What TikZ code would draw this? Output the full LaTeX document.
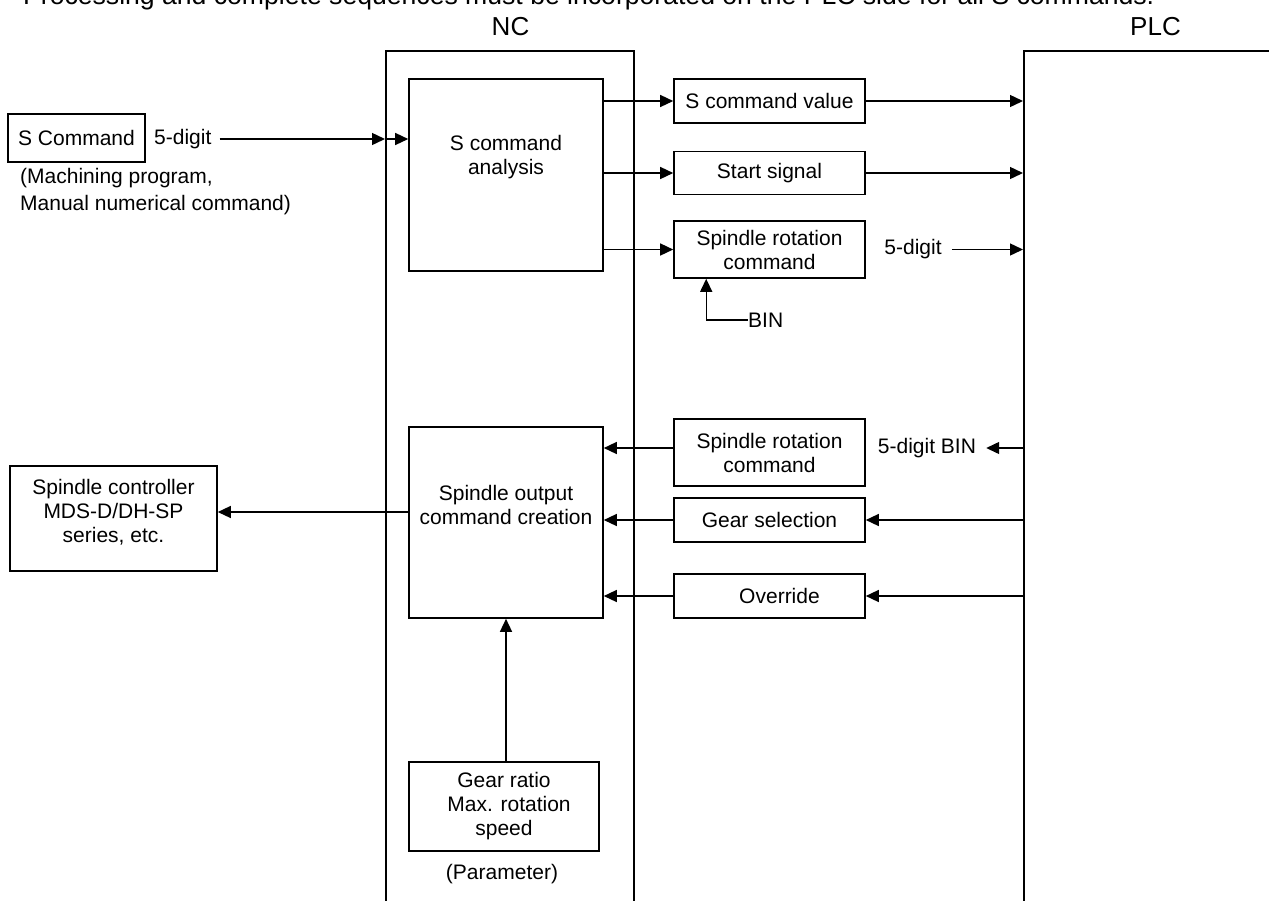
\documentclass[tikz,border=0pt]{standalone}
\usepackage{fontspec}
\setmainfont{Liberation Sans}
\usetikzlibrary{arrows.meta, positioning, calc}

\begin{document}
\begin{tikzpicture}[
  x=1pt, y=-1pt,
  box/.style={rectangle, draw, line width=1.6pt, inner sep=0pt, align=center, font=\fontsize{21}{24}\selectfont},
  txt/.style={inner sep=0pt, align=center, font=\fontsize{21}{24}\selectfont},
  zone/.style={rectangle, draw, line width=1.8pt, inner sep=0pt},
  head/.style={inner sep=0pt, font=\fontsize{26}{30}\selectfont},
  arr/.style={-{Triangle[length=13pt, width=12pt]}, line width=1.4pt}
]
\useasboundingbox (0,0) rectangle (1269,900);

% Title (cut at the top edge)
\node[head, anchor=base west, font=\fontsize{26.6}{30}\selectfont] (title) at (23,4.5) {Processing and complete sequences must be incorporated on the PLC side for all S commands.};

% NC and PLC areas
\node[zone, minimum width=248pt, minimum height=900pt, anchor=north west] (nc) at (385,50) {};
\node[zone, minimum width=340pt, minimum height=900pt, anchor=north west] (plc) at (1023,50) {};
\node[head, anchor=base] (nclbl) at (510.5,35) {NC};
\node[head, anchor=base] (plclbl) at (1155.5,35) {PLC};

% Input side
\node[box, minimum width=137pt, minimum height=48pt] (scmd) at (76.5,138) {S Command};
\node[txt, anchor=west] (fivein) at (154,139) {5-digit};
\node[txt, anchor=north west, align=left, font=\fontsize{21}{27}\selectfont] (srcnote) at (20,168) {(Machining program,\\Manual numerical command)};

% S command analysis
\node[box, minimum width=194pt, minimum height=192pt] (sana) at (506,175) {};
\node[txt] (sanatxt) at (506,157) {S command\\analysis};

% Signals to PLC
\node[box, minimum width=191pt, minimum height=44pt] (sval) at (769.5,101) {S command value};
\node[box, minimum width=191pt, minimum height=43pt] (sstart) at (769.5,173) {Start signal};
\node[box, minimum width=191pt, minimum height=57pt] (srotin) at (769.5,249.5) {Spindle rotation\\command};
\node[txt, anchor=west] (bin) at (748,320) {BIN};
\node[txt] (fiveout) at (913,249.5) {5-digit};

% Signals from PLC
\node[box, minimum width=191pt, minimum height=67pt] (srotout) at (769.5,452.5) {Spindle rotation\\command};
\node[box, minimum width=191pt, minimum height=44pt] (gsel) at (769.5,520) {Gear selection};
\node[box, minimum width=191pt, minimum height=44pt] (ovr) at (769.5,596) {\hspace*{20pt}Override};
\node[txt] (fivebin) at (927,448) {5-digit BIN};

% Spindle output
\node[box, minimum width=194pt, minimum height=191pt] (sout) at (506,522.5) {};
\node[txt] (souttxt) at (506,505) {Spindle output\\command creation};
\node[box, minimum width=207pt, minimum height=105pt] (ctrl) at (113.5,518.5) {};
\node[txt] (ctrltxt) at (113.5,512) {Spindle controller\\MDS-D/DH-SP\\series, etc.};
\node[box, minimum width=190pt, minimum height=89pt] (gear) at (504,806.5) {Gear ratio\\\hspace*{10pt}Max. rotation\\speed};
\node[txt] (param) at (502,874) {(Parameter)};

% Connectors
\draw[arr] ([xshift=8pt]fivein.east) -- (fivein.east -| nc.west);
\draw[arr] (fivein.east -| nc.west) -- (fivein.east -| sana.west);
\draw[arr] (sana.east |- sval.west) -- (sval.west);
\draw[arr] (sana.east |- sstart.west) -- (sstart.west);
\draw[arr] (sana.east |- srotin.west) -- (srotin.west);
\draw[arr] (sval.east) -- (sval.east -| plc.west);
\draw[arr] (sstart.east) -- (sstart.east -| plc.west);
\draw[arr] ([xshift=10pt]fiveout.east) -- (fiveout.east -| plc.west);
\draw[arr] (bin.west) -| ([xshift=33pt]srotin.south west);
\draw[arr] (plc.west |- fivebin.east) -- ([xshift=10pt]fivebin.east);
\draw[arr] (plc.west |- gsel.east) -- (gsel.east);
\draw[arr] (plc.west |- ovr.east) -- (ovr.east);
\draw[arr] (srotout.west |- fivebin.west) -- (fivebin.west -| sout.east);
\draw[arr] (gsel.west) -- (gsel.west -| sout.east);
\draw[arr] (ovr.west) -- (ovr.west -| sout.east);
\draw[arr] (sout.west |- ctrltxt.east) -- (ctrltxt.east -| ctrl.east);
\draw[arr] (gear.north -| sout.south) -- (sout.south);

\end{tikzpicture}
\end{document}
